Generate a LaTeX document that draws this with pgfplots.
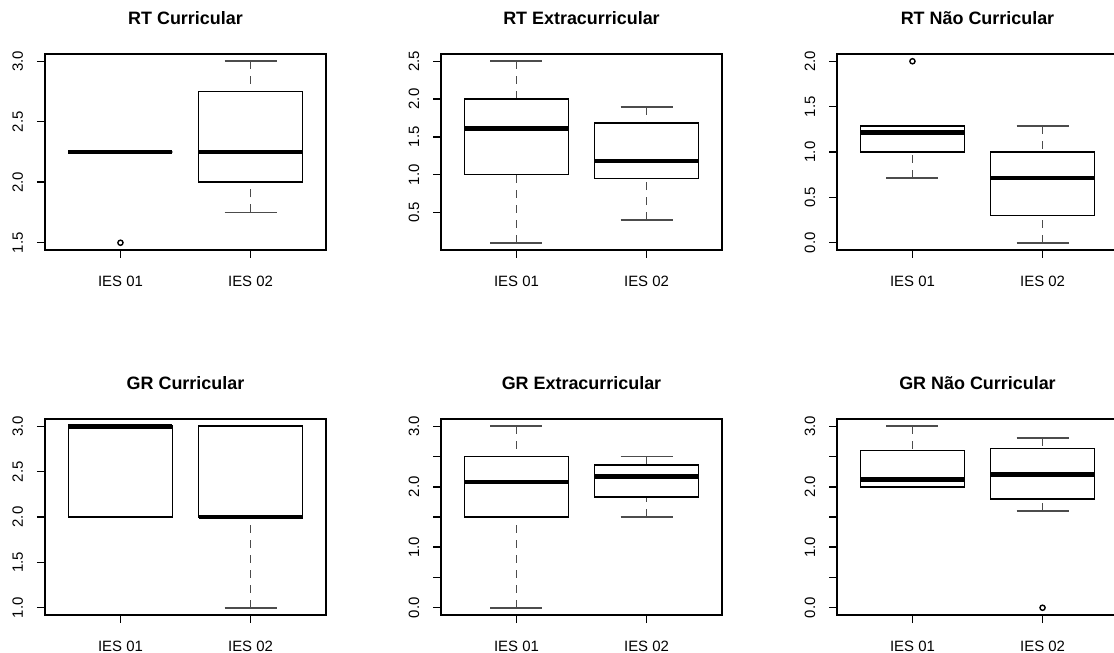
\documentclass[border=0pt]{standalone}
\usepackage{fontspec}
\setmainfont{Liberation Sans}
\usepackage{pgfplots}
\pgfplotsset{compat=1.18}
\usepgfplotslibrary{statistics}
\pgfplotsset{
  rpanel/.style={
    scale only axis, width=281bp, height=196bp,
    xmin=0.42, xmax=2.58,
    xtick={1,2}, xticklabels={IES 01,IES 02},
    tick align=outside, xtick pos=bottom, ytick pos=left,
    major tick length=8bp, minor tick num=0,
    every tick/.style={black, line width=1.5bp},
    axis line style={line width=1.6bp},
    tick label style={font=\fontsize{15}{18}\selectfont},
    xticklabel style={anchor=base},
    yticklabel style={rotate=90, anchor=base},
    xticklabel shift=28.5bp,
    yticklabel shift=14bp,
    title style={font=\bfseries\fontsize{18}{21}\selectfont, at={(0.5,1)}, anchor=base, yshift=23.5bp},
    clip=false,
  },
  rbox/.style={
    black, mark=o, mark size=2.6bp, mark options={solid, line width=1.4bp},
    boxplot/draw direction=y,
    boxplot/box extend=0.8,
    boxplot/whisker extend=0.4,
    boxplot/every box/.style={draw=black, line width=1.6bp, fill=none, solid},
    boxplot/every median/.style={draw=black, line width=4.5bp, solid},
    boxplot/draw/lower whisker/.code={%
      \draw[black!70, line width=1.8bp, dash pattern=on 8bp off 7bp]
        (boxplot cs:\pgfplotsboxplotvalue{lower whisker}) -- (boxplot cs:\pgfplotsboxplotvalue{lower quartile});
      \draw[black!70, line width=1.8bp, solid]
        (boxplot whisker cs:\pgfplotsboxplotvalue{lower whisker},0) -- (boxplot whisker cs:\pgfplotsboxplotvalue{lower whisker},1);
    },
    boxplot/draw/upper whisker/.code={%
      \draw[black!70, line width=1.8bp, dash pattern=on 8bp off 7bp]
        (boxplot cs:\pgfplotsboxplotvalue{upper whisker}) -- (boxplot cs:\pgfplotsboxplotvalue{upper quartile});
      \draw[black!70, line width=1.8bp, solid]
        (boxplot whisker cs:\pgfplotsboxplotvalue{upper whisker},0) -- (boxplot whisker cs:\pgfplotsboxplotvalue{upper whisker},1);
    },
  },
}
\begin{document}
\begin{tikzpicture}
\useasboundingbox (0,0) rectangle (1114bp,653bp);
\clip (0,0) rectangle (1114bp,653bp);

% RT Curricular
\begin{axis}[rpanel, at={(45bp,403bp)}, anchor=south west,
  ymin=1.44, ymax=3.06, ytick={1.5,2,2.5,3}, yticklabels={1.5,2.0,2.5,3.0},
  title={RT Curricular}]
\addplot[rbox, boxplot prepared={draw position=1, lower whisker=2.25, lower quartile=2.25, median=2.25, upper quartile=2.25, upper whisker=2.25}]
  table[row sep=\\, y index=0] {v\\ 1.5\\};
\addplot[rbox, boxplot prepared={draw position=2, lower whisker=1.75, lower quartile=2.0, median=2.25, upper quartile=2.75, upper whisker=3.0}]
  coordinates {};
\end{axis}

% RT Extracurricular
\begin{axis}[rpanel, at={(441bp,403bp)}, anchor=south west,
  ymin=0.004, ymax=2.596, ytick={0.5,1,1.5,2,2.5}, yticklabels={0.5,1.0,1.5,2.0,2.5},
  title={RT Extracurricular}]
\addplot[rbox, boxplot prepared={draw position=1, lower whisker=0.1, lower quartile=1.0, median=1.61, upper quartile=2.0, upper whisker=2.5}]
  coordinates {};
\addplot[rbox, boxplot prepared={draw position=2, lower whisker=0.4, lower quartile=0.95, median=1.18, upper quartile=1.68, upper whisker=1.9}]
  coordinates {};
\end{axis}

% RT Nao Curricular
\begin{axis}[rpanel, at={(837bp,403bp)}, anchor=south west,
  ymin=-0.08, ymax=2.08, ytick={0,0.5,1,1.5,2}, yticklabels={0.0,0.5,1.0,1.5,2.0},
  title={RT Não Curricular}]
\addplot[rbox, boxplot prepared={draw position=1, lower whisker=0.714, lower quartile=1.0, median=1.215, upper quartile=1.286, upper whisker=1.286}]
  table[row sep=\\, y index=0] {v\\ 2.0\\};
\addplot[rbox, boxplot prepared={draw position=2, lower whisker=0.0, lower quartile=0.3, median=0.714, upper quartile=1.0, upper whisker=1.286}]
  coordinates {};
\end{axis}

% GR Curricular
\begin{axis}[rpanel, at={(45bp,38bp)}, anchor=south west,
  ymin=0.92, ymax=3.08, ytick={1,1.5,2,2.5,3}, yticklabels={1.0,1.5,2.0,2.5,3.0},
  title={GR Curricular}]
\addplot[rbox, boxplot prepared={draw position=1, lower whisker=2.0, lower quartile=2.0, median=3.0, upper quartile=3.0, upper whisker=3.0}]
  coordinates {};
\addplot[rbox, boxplot prepared={draw position=2, lower whisker=1.0, lower quartile=2.0, median=2.0, upper quartile=3.0, upper whisker=3.0}]
  coordinates {};
\end{axis}

% GR Extracurricular
\begin{axis}[rpanel, at={(441bp,38bp)}, anchor=south west,
  ymin=-0.12, ymax=3.12, ytick={0,0.5,1,1.5,2,2.5,3}, yticklabels={0.0,,1.0,,2.0,,3.0},
  title={GR Extracurricular}]
\addplot[rbox, boxplot prepared={draw position=1, lower whisker=0.0, lower quartile=1.5, median=2.08, upper quartile=2.5, upper whisker=3.0}]
  coordinates {};
\addplot[rbox, boxplot prepared={draw position=2, lower whisker=1.5, lower quartile=1.83, median=2.17, upper quartile=2.36, upper whisker=2.5}]
  coordinates {};
\end{axis}

% GR Nao Curricular
\begin{axis}[rpanel, at={(837bp,38bp)}, anchor=south west,
  ymin=-0.12, ymax=3.12, ytick={0,0.5,1,1.5,2,2.5,3}, yticklabels={0.0,,1.0,,2.0,,3.0},
  title={GR Não Curricular}]
\addplot[rbox, boxplot prepared={draw position=1, lower whisker=2.0, lower quartile=2.0, median=2.12, upper quartile=2.6, upper whisker=3.0}]
  coordinates {};
\addplot[rbox, boxplot prepared={draw position=2, lower whisker=1.6, lower quartile=1.8, median=2.2, upper quartile=2.63, upper whisker=2.8}]
  table[row sep=\\, y index=0] {v\\ 0.0\\};
\end{axis}
\end{tikzpicture}
\end{document}
